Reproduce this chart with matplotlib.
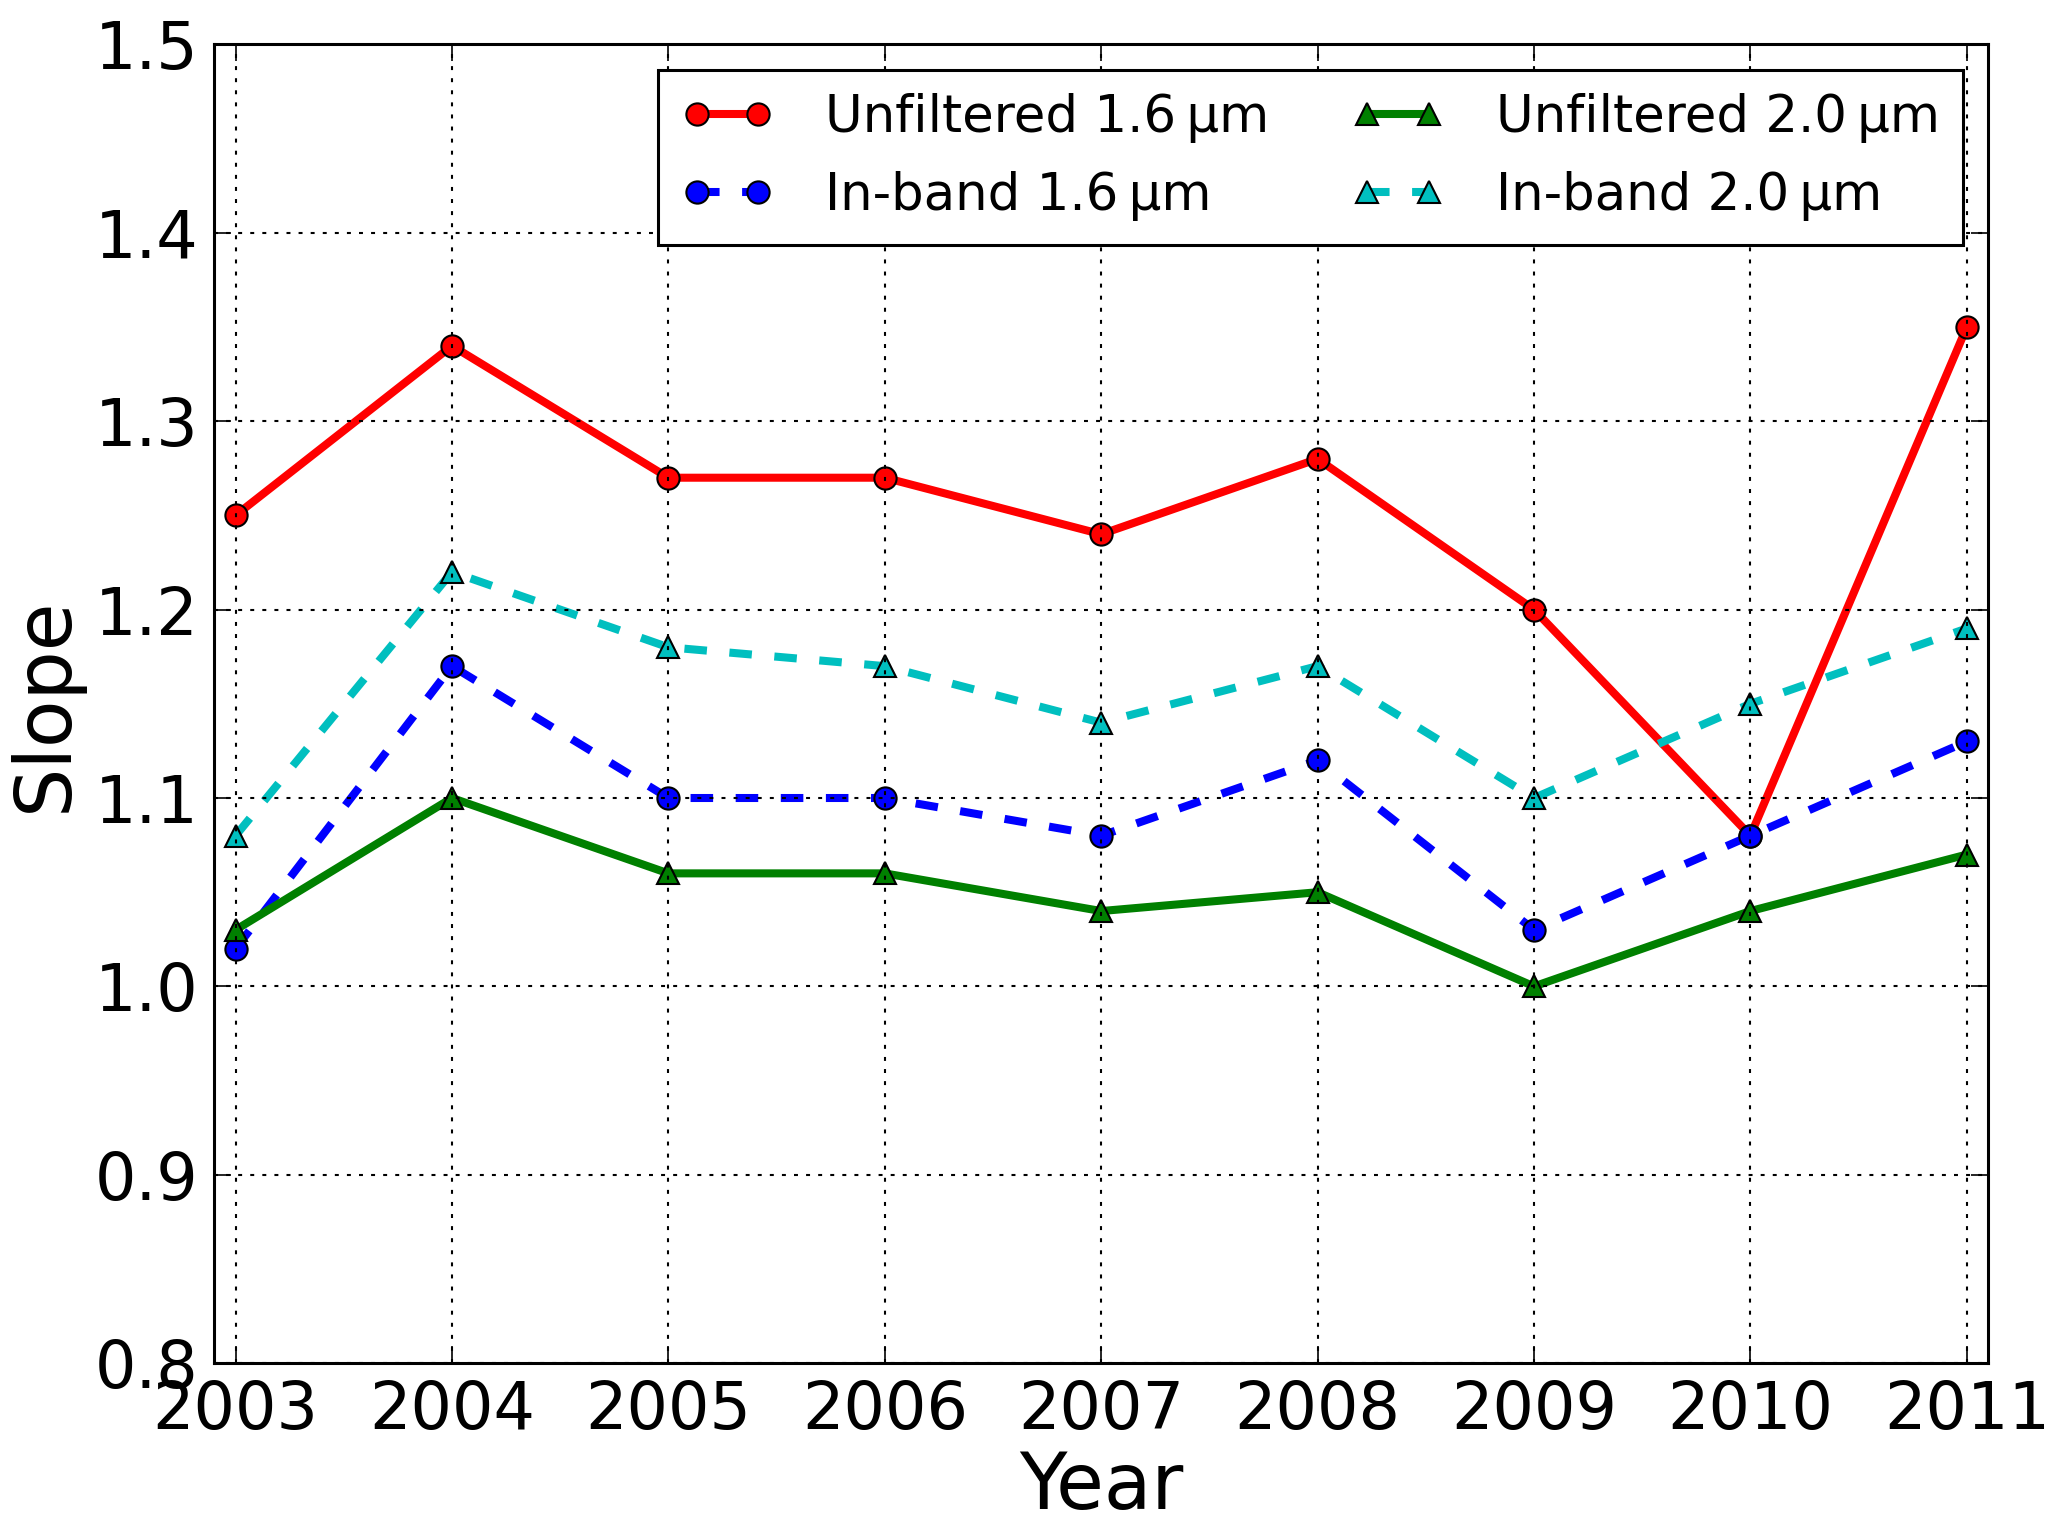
import numpy as np
import matplotlib
matplotlib.use("Agg")
import matplotlib.pyplot as plt

years = [2003, 2004, 2005, 2006, 2007, 2008, 2009, 2010, 2011]
unfiltered_16 = [1.25, 1.34, 1.27, 1.27, 1.24, 1.28, 1.20, 1.08, 1.35]
inband_16 = [1.02, 1.17, 1.10, 1.10, 1.08, 1.12, 1.03, 1.08, 1.13]
unfiltered_20 = [1.03, 1.10, 1.06, 1.06, 1.04, 1.05, 1.00, 1.04, 1.07]
inband_20 = [1.08, 1.22, 1.18, 1.17, 1.14, 1.17, 1.10, 1.15, 1.19]

plt.rcParams['font.family'] = ['DejaVu Sans']
plt.rcParams['xtick.direction'] = 'in'
plt.rcParams['ytick.direction'] = 'in'

fig = plt.figure(figsize=(20.67, 15.30), dpi=100)
ax = fig.add_axes([0.1035, 0.109, 0.8585, 0.862])

# old style look: lines drawn under the grid
ax.plot(years, unfiltered_16, '-o', color='red', lw=5.8, ms=16, mec='black', mew=1.5,
        label='Unfiltered 1.6\u2009µm')
ax.plot(years, inband_16, '--o', color='blue', lw=5.8, ms=16, mec='black', mew=1.5,
        dashes=(2.8, 2.8), label='In-band 1.6\u2009µm')
ax.plot(years, unfiltered_20, '-^', color='green', lw=5.8, ms=16, mec='black', mew=1.5,
        label='Unfiltered 2.0\u2009µm')
ax.plot(years, inband_20, '--^', color='c', lw=5.8, ms=16, mec='black', mew=1.5,
        dashes=(2.8, 2.8), label='In-band 2.0\u2009µm')

ax.set_xlim(2002.9, 2011.1)
ax.set_ylim(0.8, 1.5)
ax.set_xticks(years)
ax.set_xticklabels([str(y) for y in years])
ax.set_yticks(np.arange(0.8, 1.51, 0.1))
ax.set_yticklabels(['%.1f' % v for v in np.arange(0.8, 1.51, 0.1)])
ax.tick_params(labelsize=47, length=12, width=1.2, top=True, right=True, pad=11)
ax.set_axisbelow(False)
ax.grid(True, color='black', linestyle=(0, (1.9, 3.9)), lw=1.5)
for s in ax.spines.values():
    s.set_linewidth(2.2)

ax.set_xlabel('Year', fontsize=56, labelpad=5)
ax.set_ylabel('Slope', fontsize=56, labelpad=9)

leg = ax.legend(loc='upper right', ncol=2, fontsize=37, fancybox=False,
                framealpha=1, edgecolor='black', borderaxespad=0.5,
                handlelength=1.8, columnspacing=1.6, handletextpad=1.0,
                borderpad=0.45, labelspacing=0.55, numpoints=2)
leg.get_frame().set_linewidth(2.2)
leg.set_zorder(5)

fig.savefig('out.png', dpi=100)
